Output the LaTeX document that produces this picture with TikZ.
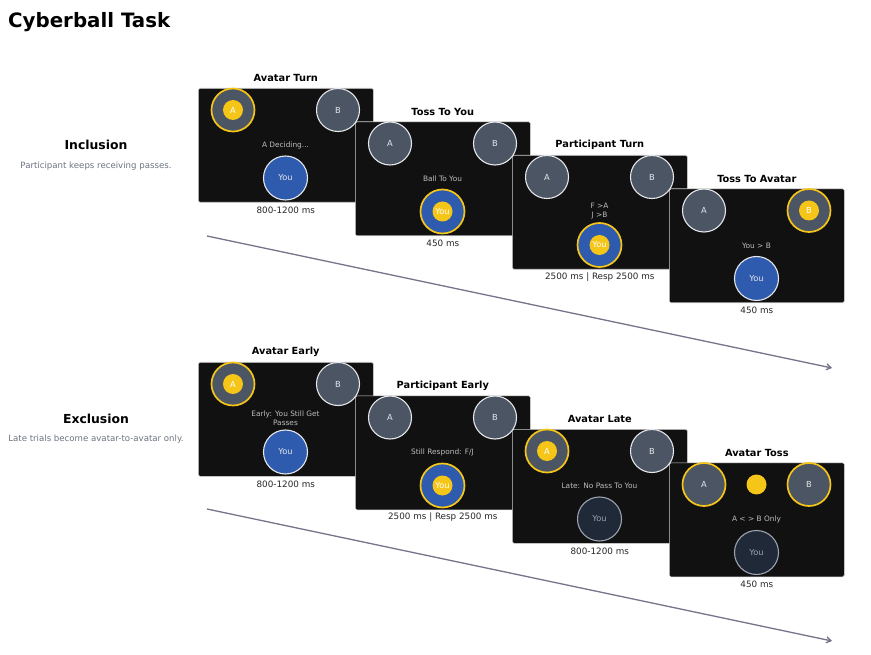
\documentclass[tikz,border=0pt]{standalone}
\usepackage{fontspec}
\setmainfont{DejaVu Sans}
\usetikzlibrary{arrows.meta,calc}
\definecolor{cpanel}{HTML}{111111}
\definecolor{cgrey}{HTML}{4B5563}
\definecolor{cedge}{HTML}{E5E7EB}
\definecolor{cblue}{HTML}{2F5BAE}
\definecolor{cyel}{HTML}{F5C518}
\definecolor{cdimfill}{HTML}{1F2937}
\definecolor{cdimedge}{HTML}{9CA3AF}
\definecolor{cmid}{HTML}{BDBDBD}
\definecolor{csub}{HTML}{6B7280}
\definecolor{carrow}{HTML}{74748A}
\definecolor{cframe}{HTML}{CFCFCF}
\tikzset{
  panelbox/.style={rectangle, minimum width=175pt, minimum height=114pt, inner sep=0pt,
    fill=cpanel, draw=cframe, line width=0.6pt, rounded corners=1.5pt, anchor=north west},
  ptitle/.style={font=\fontsize{9.8}{10}\selectfont\bfseries, text=black},
  ptime/.style={font=\fontsize{8.8}{9}\selectfont, text=black!85},
  pmid/.style={font=\fontsize{7.4}{8.6}\selectfont, text=cmid, align=center},
  player/.style={circle, minimum size=43pt, inner sep=0pt, fill=cgrey, draw=cedge,
    line width=1.1pt, text=cedge, font=\fontsize{8.3}{8.3}\selectfont},
  playerhi/.style={player, draw=cyel, line width=1.7pt},
  youn/.style={player, minimum size=44pt, fill=cblue},
  youhi/.style={youn, draw=cyel, line width=1.7pt},
  youdim/.style={youn, fill=cdimfill, draw=cdimedge, text=cdimedge},
  balldot/.style={circle, minimum size=20pt, inner sep=0pt, fill=cyel, draw=none,
    text=white, font=\fontsize{8.3}{8.3}\selectfont},
  rowlabel/.style={font=\fontsize{12.4}{13}\selectfont\bfseries, text=black},
  rowsub/.style={font=\fontsize{8.6}{9}\selectfont, text=csub},
  timeline/.style={draw=carrow, line width=1.3pt, -{Straight Barb[length=4.5pt,width=6pt]}},
}
\newcommand\cbframe[5]{% name, x, y, title, time
  \node[panelbox] (#1) at (#2,#3) {};
  \node[ptitle] (#1t) at ([yshift=10pt]#1.north) {#4};
  \node[ptime] (#1m) at ([yshift=-7.5pt]#1.south) {#5};
}
\newcommand\cbmid[2]{\node[pmid] (#1c) at ([shift={(87.5,57)}]#1.north west) {#2};}
\begin{document}
\begin{tikzpicture}[x=1pt,y=-1pt]
\useasboundingbox (0,0) rectangle (871,655);
\node[anchor=base west, inner sep=0pt, font=\fontsize{19.8}{20}\selectfont\bfseries] (title) at (8,28) {Cyberball Task};
% row labels
\node[rowlabel] (inc) at (96,145) {Inclusion};
\node[rowsub] (incs) at (96,166) {Participant keeps receiving passes.};
\node[rowlabel] (exc) at (96,419) {Exclusion};
\node[rowsub] (excs) at (96,439) {Late trials become avatar-to-avatar only.};
% timelines
\coordinate (s1) at (207,236); \coordinate (e1) at (832,368);
\coordinate (s2) at (207,509); \coordinate (e2) at (832,641);
\draw[timeline] (s1) -- (e1);
\draw[timeline] (s2) -- (e2);
% frames, inclusion
\cbframe{p1}{198}{88}{Avatar Turn}{800-1200 ms}
\cbframe{p2}{355}{121.5}{Toss To You}{450 ms}
\cbframe{p3}{512}{155}{Participant Turn}{2500 ms | Resp 2500 ms}
\cbframe{p4}{669}{188.5}{Toss To Avatar}{450 ms}
% frames, exclusion
\cbframe{q1}{198}{362}{Avatar Early}{800-1200 ms}
\cbframe{q2}{355}{395.5}{Participant Early}{2500 ms | Resp 2500 ms}
\cbframe{q3}{512}{429}{Avatar Late}{800-1200 ms}
\cbframe{q4}{669}{462.5}{Avatar Toss}{450 ms}
% middle texts
\cbmid{p1}{A Deciding...}
\cbmid{p2}{Ball To You}
\node[pmid] (p3c) at ([shift={(87.5,56)}]p3.north west) {F >A\\J >B};
\cbmid{p4}{You > B}
\node[pmid] (q1c) at ([shift={(87.5,56)}]q1.north west) {Early: You Still Get\\Passes};
\cbmid{q2}{Still Respond: F/J}
\cbmid{q3}{Late: No Pass To You}
\cbmid{q4}{A < > B Only}
% p1: Avatar Turn
\node[playerhi] (p1a) at ([shift={(35,22)}]p1.north west) {};
\node[balldot] (p1ad) at (p1a) {A};
\node[player] (p1b) at ([shift={(140,22)}]p1.north west) {B};
\node[youn] (p1y) at ([shift={(87.5,90)}]p1.north west) {You};
% p2: Toss To You
\node[player] (p2a) at ([shift={(35,22)}]p2.north west) {A};
\node[player] (p2b) at ([shift={(140,22)}]p2.north west) {B};
\node[youhi] (p2y) at ([shift={(87.5,90)}]p2.north west) {};
\node[balldot] (p2yd) at (p2y) {You};
% p3: Participant Turn
\node[player] (p3a) at ([shift={(35,22)}]p3.north west) {A};
\node[player] (p3b) at ([shift={(140,22)}]p3.north west) {B};
\node[youhi] (p3y) at ([shift={(87.5,90)}]p3.north west) {};
\node[balldot] (p3yd) at (p3y) {You};
% p4: Toss To Avatar
\node[player] (p4a) at ([shift={(35,22)}]p4.north west) {A};
\node[playerhi] (p4b) at ([shift={(140,22)}]p4.north west) {};
\node[balldot] (p4bd) at (p4b) {B};
\node[youn] (p4y) at ([shift={(87.5,90)}]p4.north west) {You};
% q1: Avatar Early
\node[playerhi] (q1a) at ([shift={(35,22)}]q1.north west) {};
\node[balldot] (q1ad) at (q1a) {A};
\node[player] (q1b) at ([shift={(140,22)}]q1.north west) {B};
\node[youn] (q1y) at ([shift={(87.5,90)}]q1.north west) {You};
% q2: Participant Early
\node[player] (q2a) at ([shift={(35,22)}]q2.north west) {A};
\node[player] (q2b) at ([shift={(140,22)}]q2.north west) {B};
\node[youhi] (q2y) at ([shift={(87.5,90)}]q2.north west) {};
\node[balldot] (q2yd) at (q2y) {You};
% q3: Avatar Late
\node[playerhi] (q3a) at ([shift={(35,22)}]q3.north west) {};
\node[balldot] (q3ad) at (q3a) {A};
\node[player] (q3b) at ([shift={(140,22)}]q3.north west) {B};
\node[youdim] (q3y) at ([shift={(87.5,90)}]q3.north west) {You};
% q4: Avatar Toss
\node[playerhi] (q4a) at ([shift={(35,22)}]q4.north west) {A};
\node[playerhi] (q4b) at ([shift={(140,22)}]q4.north west) {B};
\node[balldot] (q4ball) at ([shift={(87.5,22)}]q4.north west) {};
\node[youdim] (q4y) at ([shift={(87.5,90)}]q4.north west) {You};
\end{tikzpicture}
\end{document}
